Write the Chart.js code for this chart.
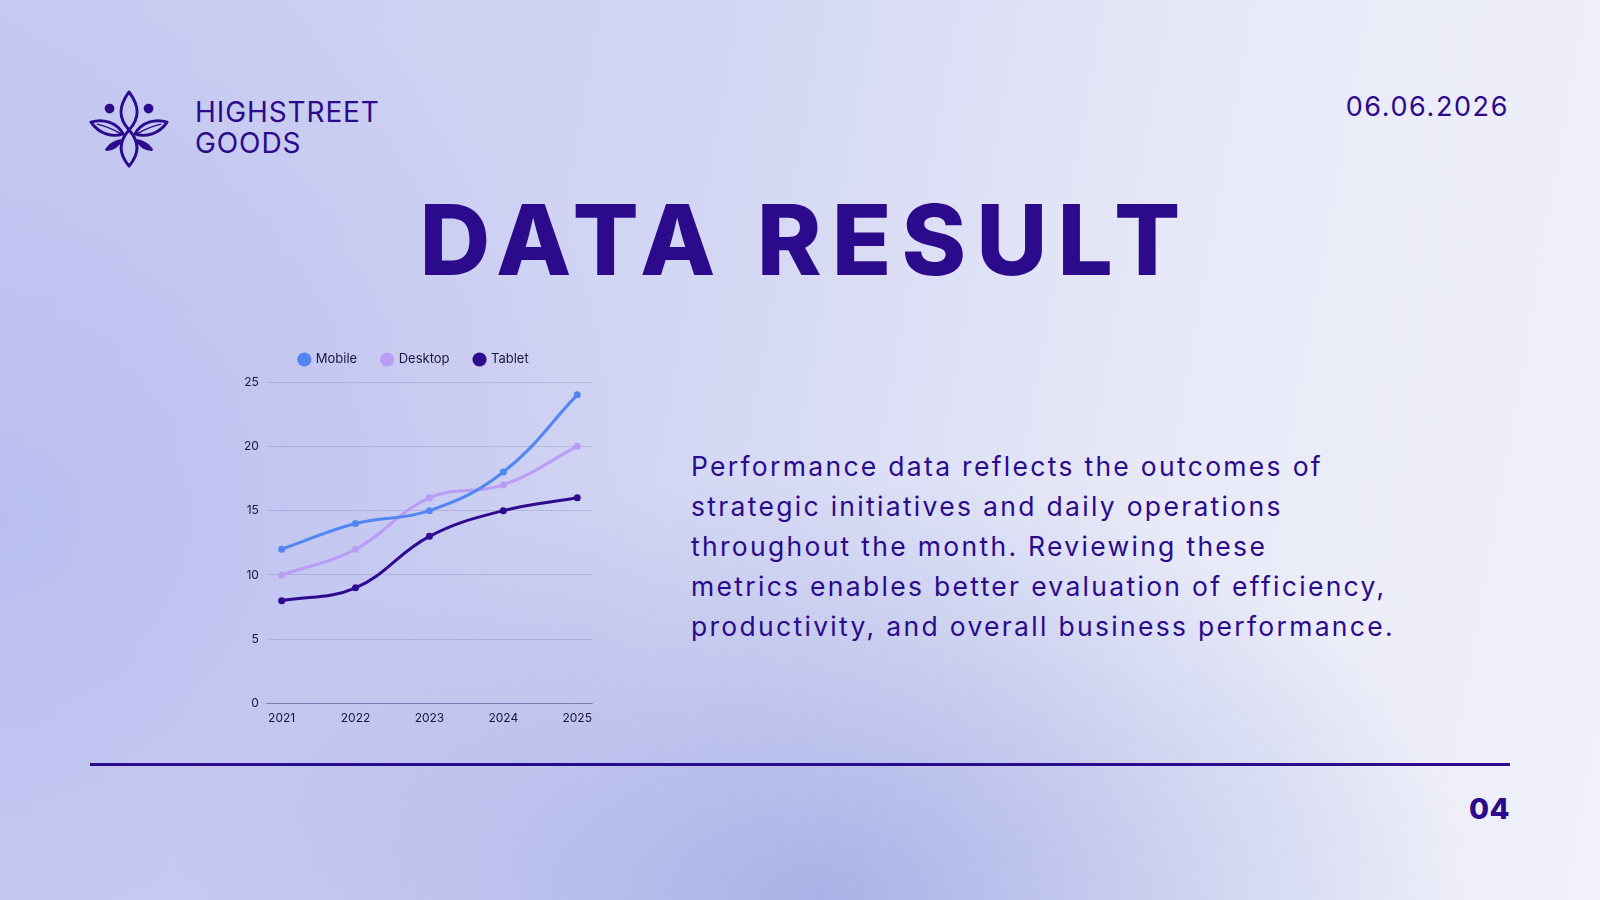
<!DOCTYPE html>
<html lang="en">
<head>
    <meta charset="UTF-8">
    <title>Data Result - Highstreet Goods</title>
    <script src="https://cdn.jsdelivr.net/npm/chart.js"></script>
    <style>
        html, body { margin: 0; padding: 0; }
        body {
            width: 1600px; height: 900px; overflow: hidden; position: relative;
            font-family: Inter, "Noto Sans", sans-serif; color: #2c0a8c;
            background:
                radial-gradient(ellipse 650px 430px at 820px 900px, rgba(160,170,228,0.85), rgba(160,170,228,0) 100%),
                radial-gradient(ellipse 650px 600px at 0px 520px, rgba(182,188,239,0.85), rgba(182,188,239,0) 100%),
                linear-gradient(100deg, #c8cbf1 0%, #d2d5f3 40%, #e8eaf8 72%, #f0f1f9 100%);
        }
        #logo { position: absolute; left: 89px; top: 89px; width: 84px; height: 80px; }
        #brand { position: absolute; left: 195px; top: 97px; font-size: 28px; line-height: 31px; letter-spacing: 0.9px; font-weight: 400; }
        #date { position: absolute; right: 91px; top: 90px; font-size: 27px; letter-spacing: 1.6px; }
        #title { position: absolute; left: 5px; width: 1600px; top: 180px; text-align: center; font-size: 98px; line-height: 120px; font-weight: 800; letter-spacing: 10px; color: #2c0a8c; }
        #chart-box { position: absolute; left: 236px; top: 328px; width: 360px; height: 398px; }
        #text { position: absolute; left: 691px; top: 446px; font-size: 26.5px; line-height: 40px; letter-spacing: 2.3px; }
        #rule { position: absolute; left: 90px; top: 763px; width: 1420px; height: 3px; background: #2c0a8c; }
        #page { position: absolute; right: 90px; top: 791px; font-size: 29px; font-weight: 800; letter-spacing: 0.5px; }
    </style>
</head>
<body>
    <svg id="logo" viewBox="0 0 86 82" fill="none" stroke="#2c0a8c" stroke-width="3" stroke-linejoin="round">
        <!-- centre leaf -->
        <path d="M41 3 C30 18 30 30 41 42 C52 54 52 66 41 79 C30 66 30 54 41 42 C52 30 52 18 41 3 Z"/>
        <!-- side leaves -->
        <path d="M2 34 C14 30 28 34 35 46 C24 50 10 46 2 34 Z"/>
        <path d="M80 34 C68 30 54 34 47 46 C58 50 72 46 80 34 Z"/>
        <path d="M8 36 C18 38 26 42 33 46" stroke-width="1.5"/>
        <path d="M74 36 C64 38 56 42 49 46" stroke-width="1.5"/>
        <!-- small bottom leaves -->
        <path d="M18 62 C22 56 28 54 32 53 C30 58 24 62 18 62 Z" fill="#2c0a8c"/>
        <path d="M64 62 C60 56 54 54 50 53 C52 58 58 62 64 62 Z" fill="#2c0a8c"/>
        <circle cx="21" cy="20" r="5" fill="#2c0a8c" stroke="none"/>
        <circle cx="61" cy="20" r="5" fill="#2c0a8c" stroke="none"/>
    </svg>
    <div id="brand">HIGHSTREET<br>GOODS</div>
    <div id="date">06.06.2026</div>
    <div id="title">DATA RESULT</div>

    <div id="chart-box"><canvas id="lineChart"></canvas></div>

    <div id="text">Performance data reflects the outcomes of<br>strategic initiatives and daily operations<br>throughout the month. Reviewing these<br>metrics enables better evaluation of efficiency,<br>productivity, and overall business performance.</div>

    <div id="rule"></div>
    <div id="page">04</div>

    <script>
        const years = ['2021', '2022', '2023', '2024', '2025'];
        const mobile = [12, 14, 15, 18, 24];
        const desktop = [10, 12, 16, 17, 20];
        const tablet = [8, 9, 13, 15, 16];
        const yTicks = [0, 5, 10, 15, 20, 25];

        // x is the year index so the points can sit a little in from the axis ends
        function series(label, values, color) {
            return {
                label: label,
                data: values.map((v, i) => ({ x: i, y: v })),
                borderColor: color, backgroundColor: color,
                borderWidth: 3, pointRadius: 3.5, pointBorderWidth: 0, pointHoverRadius: 3.5,
                tension: 0.4, fill: false
            };
        }

        // a bit more room under the legend
        const legendGap = {
            id: 'legendGap',
            beforeInit(chart) {
                const fit = chart.legend.fit;
                chart.legend.fit = function () { fit.call(this); this.height += 6; };
            }
        };

        new Chart(document.getElementById('lineChart'), {
            type: 'line',
            data: {
                datasets: [
                    series('Mobile', mobile, '#5286f3'),
                    series('Desktop', desktop, '#b99cf4'),
                    series('Tablet', tablet, '#2e0a8e')
                ]
            },
            options: {
                responsive: true, maintainAspectRatio: false, animation: false,
                layout: { padding: { left: 0, right: 4, top: 0, bottom: 0 } },
                plugins: {
                    legend: {
                        labels: {
                            usePointStyle: true, pointStyle: 'circle', boxWidth: 10, boxHeight: 10,
                            color: '#1d1340', font: { family: 'Inter', size: 13 }, padding: 25
                        }
                    },
                    tooltip: { enabled: false }
                },
                scales: {
                    x: {
                        type: 'linear', min: -0.2, max: 4.2,
                        afterBuildTicks: axis => { axis.ticks = years.map((y, i) => ({ value: i })); },
                        grid: { display: false },
                        border: { color: 'rgba(70,60,130,0.45)' },
                        ticks: {
                            color: '#1d1340', font: { family: 'Inter', size: 12 }, padding: 0,
                            callback: v => years[v]
                        }
                    },
                    y: {
                        min: 0, max: 25,
                        afterBuildTicks: axis => { axis.ticks = yTicks.map(v => ({ value: v })); },
                        grid: { color: 'rgba(80,70,140,0.18)', drawTicks: false },
                        border: { display: false },
                        ticks: { color: '#1d1340', font: { family: 'Inter', size: 12 }, padding: 8 }
                    }
                }
            },
            plugins: [legendGap]
        });
    </script>
</body>
</html>
